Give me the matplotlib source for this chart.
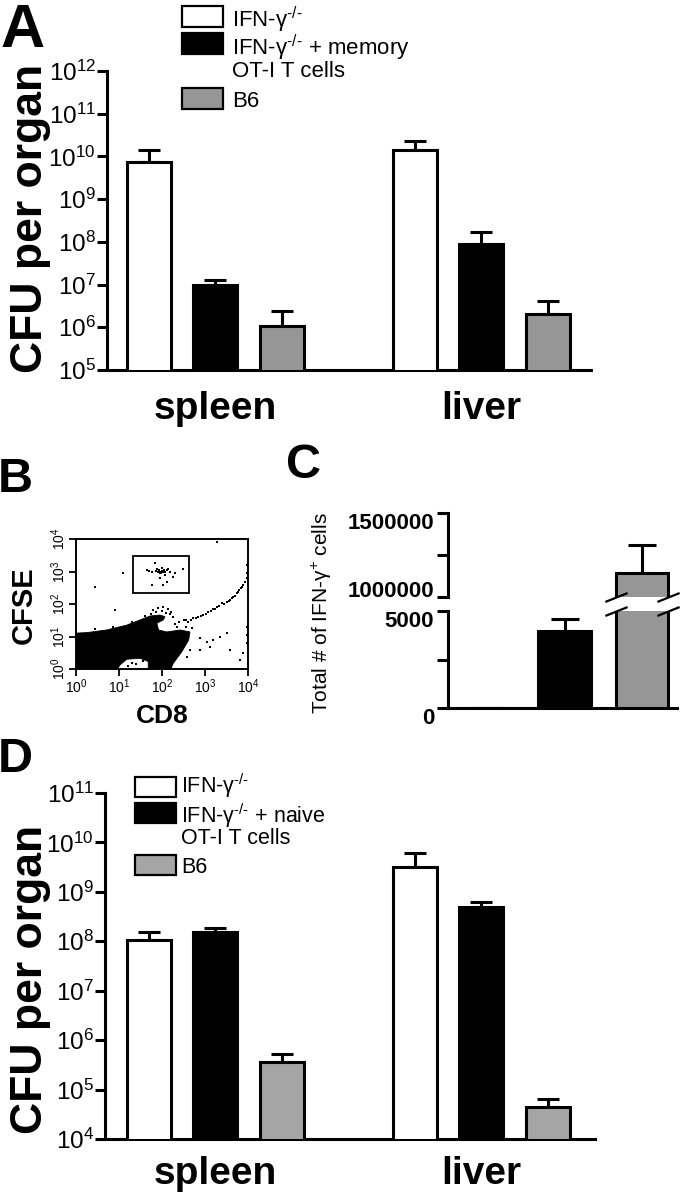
import numpy as np
import matplotlib
matplotlib.use("Agg")
import matplotlib.pyplot as plt
from matplotlib.patches import Rectangle, Polygon
from matplotlib.ticker import NullLocator, LogLocator, NullFormatter

plt.rcParams['font.family'] = ['Liberation Sans', 'DejaVu Sans']
plt.rcParams['mathtext.fontset'] = 'custom'
plt.rcParams['mathtext.rm'] = 'Liberation Sans'
plt.rcParams['mathtext.it'] = 'Liberation Sans:italic'
plt.rcParams['mathtext.bf'] = 'Liberation Sans:bold'
plt.rcParams['mathtext.default'] = 'regular'

W, H = 680, 1199

# ---- panel A: CFU, memory OT-I transfer ----
organs = ['spleen', 'liver']
a_labels = ['IFN-γ$^{\u2010/\u2010}$', 'IFN-γ$^{\u2010/\u2010}$ + memory\nOT-I T cells', 'B6']
a_ifng = [7.3e9, 1.4e10]
a_ifng_err = [6.7e9, 9.0e9]
a_memory = [1.0e7, 8.9e7]
a_memory_err = [3.0e6, 8.1e7]
a_b6 = [1.1e6, 2.1e6]
a_b6_err = [1.3e6, 2.0e6]

# ---- panel D: CFU, naive OT-I transfer ----
d_labels = ['IFN-γ$^{\u2010/\u2010}$', 'IFN-γ$^{\u2010/\u2010}$ + naive\nOT-I T cells', 'B6']
d_ifng = [1.05e8, 3.2e9]
d_ifng_err = [5.0e7, 2.9e9]
d_naive = [1.55e8, 4.9e8]
d_naive_err = [3.5e7, 1.3e8]
d_b6 = [3.6e5, 4.4e4]
d_b6_err = [1.6e5, 2.1e4]

# ---- panel C: IFN-gamma+ cells ----
c_cells = [0, 3970, 1140000]
c_cells_err = [0, 620, 170000]

# ---- panel B: flow plot (log10 units) ----
blob_cd8 = [-0.05, -0.05, 0.25, 0.71, 1.18, 1.49, 1.72, 1.95, 2.07, 2.03, 1.88, 1.92,
            2.11, 2.42, 2.65, 2.62, 2.46, 2.26, 2.19, 1.68, 1.68, 1.49, 1.18, 1.02, 0.94]
blob_cfse = [-0.05, 1.10, 1.12, 1.20, 1.35, 1.51, 1.63, 1.66, 1.61, 1.51, 1.41, 1.20,
             1.14, 1.20, 1.14, 0.89, 0.53, 0.17, -0.05, -0.05, 0.23, 0.33, 0.30, 0.12, -0.05]
gate_cd8 = [21, 425]
gate_cfse = [218, 3000]
event_cd8 = [1.64, 1.76, 1.84, 1.88, 1.95, 1.99, 2.03, 2.07, 2.11, 2.19, 2.26, 2.30, 2.48, 1.76,
             2.03, 2.11, 1.95, 1.99, 1.96, 2.00, 1.93, 2.05, 1.90, 1.85, 2.02, 1.98, 2.08, 1.70, 2.15,
             1.80, 1.91, 2.03, 2.15, 2.22, 2.26, 2.50, 2.61, 2.73, 2.84, 2.96, 3.08, 3.19, 3.27,
             3.39, 3.50, 3.58, 3.66, 3.74, 3.80, 3.85, 3.93, 3.97, 3.98, 3.97, 2.40, 2.55, 2.67,
             2.78, 2.90, 3.02, 3.13, 3.23, 3.33, 3.45, 3.55, 3.62, 3.70, 3.77, 3.83, 3.89,
             1.10, 0.44, 0.91, 3.27, 3.97, 3.97, 2.88, 3.04, 3.19, 3.35, 3.50, 2.88, 3.11, 3.58,
             3.81, 3.89, 3.97, 2.65, 2.57,
             0.45, 0.85, 1.30, 1.60, 1.75, 1.85, 2.00, 2.10, 2.18, 2.30, 2.35, 2.55, 2.70,
             1.30, 1.40, 1.55, 1.20]
event_cfse = [3.05, 2.99, 3.25, 3.07, 2.94, 3.10, 2.99, 2.89, 3.05, 2.99, 2.84, 2.94, 3.07, 2.58,
              2.58, 2.69, 2.79, 3.02, 3.00, 2.97, 3.04, 3.06, 3.00, 3.02, 3.01, 2.96, 3.00, 3.02, 3.08,
              1.82, 1.87, 1.90, 1.84, 1.76, 1.61, 1.51, 1.46, 1.56, 1.61, 1.66, 1.76, 1.84, 1.90,
              2.02, 2.07, 2.12, 2.22, 2.33, 2.43, 2.53, 2.69, 2.79, 2.94, 3.20, 1.45, 1.50, 1.52,
              1.58, 1.64, 1.70, 1.80, 1.86, 1.95, 2.00, 2.10, 2.17, 2.26, 2.38, 2.48, 2.60,
              2.94, 2.53, 1.82, 3.92, 1.30, 1.05, 0.94, 0.84, 0.89, 0.99, 1.10, 0.58, 0.69, 0.58,
              0.28, 0.48, 0.79, 0.58, 0.38,
              1.22, 1.30, 1.45, 1.62, 1.70, 1.75, 1.80, 1.72, 1.70, 1.40, 1.30, 1.28, 1.25,
              0.20, 0.15, 0.25, 0.10]

group_x = np.array([0.0, 4.0])
LW = 2.2


def px_axes(fig, left, top, right, bottom):
    return fig.add_axes([left / W, 1 - bottom / H, (right - left) / W, (bottom - top) / H])


def fig_text(fig, x, y, s, **kw):
    return fig.text(x / W, 1 - y / H, s, **kw)


def cfu_panel(ax, series, errs, colors, exps, xlim, label_pad):
    ax.set_yscale('log')
    for off, vals, err, col in zip([-1, 0, 1], series, errs, colors):
        x = group_x + off
        ax.errorbar(x, vals, yerr=[np.zeros(len(vals)), err], fmt='none', ecolor='black',
                    elinewidth=LW, capsize=8, capthick=LW, zorder=2)
        ax.bar(x, vals, width=0.66, color=col, edgecolor='black', linewidth=LW, zorder=3)
    ax.set_ylim(10.0 ** exps[0], 10.0 ** exps[-1])
    ax.set_xlim(*xlim)
    ax.set_yticks([10.0 ** k for k in exps], [rf'$10^{{{k}}}$' for k in exps])
    ax.yaxis.set_minor_locator(NullLocator())
    ax.set_xticks(group_x, organs)
    for lbl in ax.get_xticklabels():
        lbl.set_fontweight('bold')
    ax.tick_params(axis='x', length=0, pad=label_pad, labelsize=28)
    ax.tick_params(axis='y', direction='out', length=7, width=LW, labelsize=17.5, pad=1)
    for s in ['top', 'right']:
        ax.spines[s].set_visible(False)
    for s in ['left', 'bottom']:
        ax.spines[s].set_linewidth(LW)


def draw_legend(fig, labels, colors, box_x, box_tops, box_h, text_x, baselines, line_px, size):
    for lab, col, top, base in zip(labels, colors, box_tops, baselines):
        fig.add_artist(Rectangle((box_x[0] / W, 1 - (top + box_h) / H), (box_x[1] - box_x[0]) / W,
                                 box_h / H, transform=fig.transFigure, facecolor=col,
                                 edgecolor='black', linewidth=1.6))
        for i, line in enumerate(lab.split('\n')):
            fig_text(fig, text_x, base + i * line_px, line, fontsize=size, va='baseline', ha='left')


fig = plt.figure(figsize=(W / 100, H / 100), dpi=100)

# ---------------- A ----------------
axA = px_axes(fig, 107, 71, 591, 370)
cfu_panel(axA, [a_ifng, a_memory, a_b6], [a_ifng_err, a_memory_err, a_b6_err],
          ['white', 'black', '#969696'], list(range(5, 13)), (-1.63, 5.65), 15)
draw_legend(fig, a_labels, ['white', 'black', '#969696'], (182, 223), [6, 33, 88], 21, 232,
            [27, 55, 107], 22, 16)
fig_text(fig, 42, 218, 'CFU per organ', rotation=90, rotation_mode='anchor', ha='center',
         va='baseline', fontsize=32, fontweight='bold')

# ---------------- B ----------------
axB = px_axes(fig, 76, 539, 248, 669)
axB.set_xscale('log')
axB.set_yscale('log')
axB.add_patch(Polygon(np.column_stack([10.0 ** np.array(blob_cd8), 10.0 ** np.array(blob_cfse)]),
                      closed=True, facecolor='black', edgecolor='black', linewidth=0.6))
axB.plot(10.0 ** np.array(event_cd8), 10.0 ** np.array(event_cfse), 's', ms=1.7, mew=0,
         color='black', linestyle='none')
axB.add_patch(Rectangle((gate_cd8[0], gate_cfse[0]), gate_cd8[1] - gate_cd8[0],
                        gate_cfse[1] - gate_cfse[0], fill=False, edgecolor='black', linewidth=1.3))
axB.set_xlim(1, 1e4)
axB.set_ylim(1, 1e4)
decades = [0, 1, 2, 3, 4]
for axis in (axB.xaxis, axB.yaxis):
    axis.set_major_locator(plt.FixedLocator([10.0 ** k for k in decades]))
    axis.set_minor_locator(LogLocator(base=10, subs=range(2, 10)))
    axis.set_minor_formatter(NullFormatter())
axB.set_xticklabels([rf'$10^{{{k}}}$' for k in decades])
axB.set_yticklabels([rf'$10^{{{k}}}$' for k in decades])
for t in axB.get_yticklabels():
    t.set_rotation(90)
    t.set_va('center')
axB.tick_params(which='major', direction='out', length=5, width=1.3, labelsize=10, pad=1)
axB.tick_params(which='minor', direction='out', length=3, width=1.0)
for s in axB.spines.values():
    s.set_linewidth(1.4)
fig_text(fig, 32, 605, 'CFSE', rotation=90, rotation_mode='anchor', ha='center', va='baseline',
         fontsize=21, fontweight='bold')
fig_text(fig, 162, 723, 'CD8', ha='center', va='baseline', fontsize=19, fontweight='bold')

# ---------------- C ----------------
axCu = px_axes(fig, 448, 513, 677, 597)
axCl = px_axes(fig, 448, 611, 677, 708)
c_x = np.arange(3)
c_colors = ['white', 'black', '#969696']
bw = 0.68
for ax in (axCu, axCl):
    ax.errorbar(c_x, c_cells, yerr=[np.zeros(3), c_cells_err], fmt='none', ecolor='black',
                elinewidth=LW, capsize=10, capthick=LW, zorder=2)
    ax.bar(c_x, c_cells, width=bw, color=c_colors, edgecolor='black', linewidth=LW, zorder=3)
    ax.set_xlim(-0.503, 2.45)
    ax.set_xticks([])
    for s in ['top', 'right']:
        ax.spines[s].set_visible(False)
    ax.spines['left'].set_linewidth(LW)
    ax.spines['bottom'].set_linewidth(LW)
    ax.tick_params(axis='y', direction='out', length=8, width=LW, labelsize=16, pad=2)
axCu.spines['bottom'].set_visible(False)
axCu.set_ylim(1e6, 1.5e6)
axCu.set_yticks([1e6, 1.25e6, 1.5e6], ['1000000', '', '1500000'])
axCl.set_ylim(0, 5000)
axCl.set_yticks([0, 2500, 5000], ['0', '', '5000'])
for ax, aligns in ((axCu, ['baseline', 'center', 'top']), (axCl, ['top', 'center', 'top'])):
    for lbl, va in zip(ax.get_yticklabels(), aligns):
        lbl.set_fontweight('bold')
        lbl.set_va(va)
slash = [(-1, -0.4), (1, 0.4)]
edges = [c_x[2] - bw / 2, c_x[2] + bw / 2]
kw = dict(marker=slash, markersize=16, linestyle='none', color='black', mec='black', mew=1.6,
          clip_on=False, zorder=5)
axCu.plot(edges, [0, 0], transform=axCu.get_xaxis_transform(), **kw)
axCl.plot(edges, [1, 1], transform=axCl.get_xaxis_transform(), **kw)
fig_text(fig, 328, 613, 'Total # of IFN-γ$^{+}$ cells', rotation=90, rotation_mode='anchor',
         ha='center', va='baseline', fontsize=15)

# ---------------- D ----------------
axD = px_axes(fig, 105, 793, 595, 1139)
cfu_panel(axD, [d_ifng, d_naive, d_b6], [d_ifng_err, d_naive_err, d_b6_err],
          ['white', 'black', '#a5a5a5'], list(range(4, 12)), (-1.66, 5.71), 12)
draw_legend(fig, d_labels, ['white', 'black', '#a5a5a5'], (135, 176), [777, 803, 855], 20, 181,
            [793, 823, 873], 21, 15.5)
fig_text(fig, 42, 979, 'CFU per organ', rotation=90, rotation_mode='anchor', ha='center',
         va='baseline', fontsize=32, fontweight='bold')

# panel letters
fig_text(fig, 0, 47, 'A', fontsize=44, fontweight='bold', va='baseline')
fig_text(fig, -2, 492, 'B', fontsize=35, fontweight='bold', va='baseline')
fig_text(fig, 286, 478, 'C', fontsize=35, fontweight='bold', va='baseline')
fig_text(fig, -2, 772, 'D', fontsize=35, fontweight='bold', va='baseline')

fig.savefig('out.png', dpi=100)
